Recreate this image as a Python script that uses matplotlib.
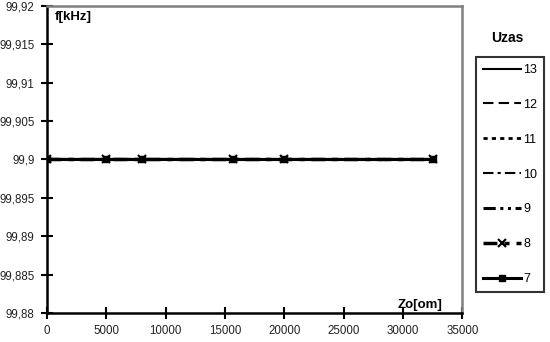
import matplotlib
matplotlib.use("Agg")
import matplotlib.pyplot as plt
from matplotlib.ticker import FuncFormatter, MultipleLocator

plt.rcParams['font.family'] = ['Liberation Sans Narrow', 'Liberation Sans', 'DejaVu Sans']

zo = [0, 5000, 8000, 15700, 20000, 32500]
series_names = ["13", "12", "11", "10", "9", "8", "7"]
series_values = {
    "13": [99.9, 99.9, 99.9, 99.9, 99.9, 99.9],
    "12": [99.9, 99.9, 99.9, 99.9, 99.9, 99.9],
    "11": [99.9, 99.9, 99.9, 99.9, 99.9, 99.9],
    "10": [99.9, 99.9, 99.9, 99.9, 99.9, 99.9],
    "9":  [99.9, 99.9, 99.9, 99.9, 99.9, 99.9],
    "8":  [99.9, 99.9, 99.9, 99.9, 99.9, 99.9],
    "7":  [99.9, 99.9, 99.9, 99.9, 99.9, 99.9],
}

styles = {
    "13": dict(linestyle='-', lw=1.5),
    "12": dict(linestyle=(0, (5, 2.5)), lw=1.5),
    "11": dict(linestyle=(0, (1.5, 1.5)), lw=2),
    "10": dict(linestyle=(0, (5, 2, 1.5, 2)), lw=1.5),
    "9":  dict(linestyle=(0, (4, 1.5, 1, 1.5, 1, 1.5)), lw=2.2),
    "8":  dict(linestyle=(0, (4, 2, 1.5, 2)), lw=2.5, marker='x', ms=6, mew=1.5),
    "7":  dict(linestyle='-', lw=2.2, marker='s', ms=4),
}

fig = plt.figure(figsize=(5.5, 3.42), dpi=100)
ax = fig.add_axes([0.0855, 0.0848, 0.755, 0.8977])

for name in series_names:
    st = dict(styles[name])
    ax.plot(zo, series_values[name], color='black', label=name, **st)

ax.set_xlim(0, 35000)
ax.set_ylim(99.88, 99.92)
ax.xaxis.set_major_locator(MultipleLocator(5000))
ax.yaxis.set_major_locator(MultipleLocator(0.005))

def yfmt(v, pos):
    s = f"{v:.3f}".rstrip('0').rstrip('.')
    return s.replace('.', ',')

ax.yaxis.set_major_formatter(FuncFormatter(yfmt))
ax.xaxis.set_major_formatter(FuncFormatter(lambda v, p: f"{int(round(v))}"))

for s in ['left', 'bottom']:
    ax.spines[s].set_color('black')
    ax.spines[s].set_linewidth(1.8)
for s in ['top', 'right']:
    ax.spines[s].set_color('#808080')
    ax.spines[s].set_linewidth(1.8)

ax.tick_params(direction='inout', length=8, width=1.5, labelsize=8.3, pad=5, colors='black')
for lbl in ax.get_xticklabels() + ax.get_yticklabels():
    lbl.set_color('#222222')

ax.text(0.018, 0.985, "f[kHz]", transform=ax.transAxes, fontsize=9.5, fontweight='bold',
        ha='left', va='top')
ax.text(0.845, 0.005, "Zo[om]", transform=ax.transAxes, fontsize=9.5, fontweight='bold',
        ha='left', va='bottom')

handles, labels = ax.get_legend_handles_labels()
leg = fig.legend(handles, labels, loc='upper left', bbox_to_anchor=(0.866, 0.833),
                 fontsize=9, handlelength=3.0, labelspacing=1.83, handletextpad=0.2,
                 borderpad=0.55, borderaxespad=0, frameon=True, fancybox=False)
leg.get_frame().set_edgecolor('black')
leg.get_frame().set_linewidth(1.5)

fig.text(0.922, 0.889, "Uzas", fontsize=10, fontweight='bold', ha='center', va='center')

fig.savefig("out.png", dpi=100)
